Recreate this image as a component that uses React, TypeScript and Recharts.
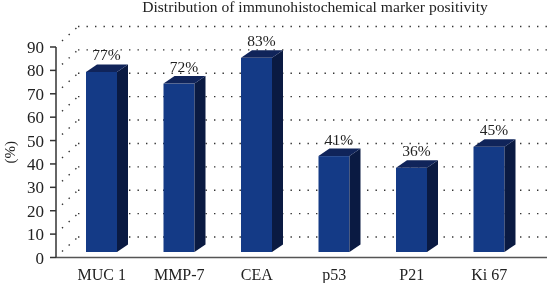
import { BarChart, Bar, XAxis, YAxis, CartesianGrid, LabelList, Label } from "recharts";

const markers = ["MUC 1", "MMP-7", "CEA", "p53", "P21", "Ki 67"];
const positivity = [77, 72, 83, 41, 36, 45];
const yTicks = [0, 10, 20, 30, 40, 50, 60, 70, 80, 90];

const chartData = markers.map((marker, i) => ({ marker, value: positivity[i] }));

const FONT = "'Liberation Serif', serif";
const TEXT = "#222";
const WALL_X = 22;
const WALL_Y = 20.5;
const BAR_LIFT = 5.5;
const SIDE_X = 11;
const SIDE_Y = 7.5;

// front face, side and top of one 3D column
const Column = ({ x, y, width, height }: any) => {
  const top = y - BAR_LIFT;
  const bottom = top + height;
  const right = x + width;
  return (
    <g>
      <rect x={x} y={top} width={width} height={height} fill="#143a86" />
      <polygon
        points={`${right},${top} ${right + SIDE_X},${top - SIDE_Y} ${right + SIDE_X},${bottom - SIDE_Y} ${right},${bottom}`}
        fill="#0a1a42"
      />
      <polygon
        points={`${x},${top} ${x + SIDE_X},${top - SIDE_Y} ${right + SIDE_X},${top - SIDE_Y} ${right},${top}`}
        fill="#10245a"
      />
    </g>
  );
};

// back wall dotted line plus the diagonal running to the y axis
const WallLine = ({ x1, x2, y1 }: any) => (
  <g stroke="#333" strokeWidth={1.4} fill="none">
    <line x1={x1 + WALL_X} x2={x2} y1={y1 - WALL_Y} y2={y1 - WALL_Y} strokeDasharray="1.4 7.1" />
    <line x1={x1 + 6} x2={x1 + WALL_X} y1={y1 - 6} y2={y1 - WALL_Y} strokeDasharray="1.4 7.6" />
  </g>
);

export default function App() {
  return (
    <div style={{ position: "fixed", left: 0, top: 0 }}>
      <BarChart
        width={547}
        height={283}
        data={chartData}
        margin={{ top: 47, right: 0, bottom: 0, left: 0 }}
        barSize={31}
      >
        <CartesianGrid vertical={false} horizontal={(props: any) => <WallLine key={props.key} {...props} />} />
        <XAxis
          dataKey="marker"
          height={25.5}
          padding={{ left: 7, right: 19 }}
          tickLine={false}
          axisLine={{ stroke: "#555", strokeWidth: 1.5 }}
          tick={{ fontFamily: FONT, fontSize: 16, fill: TEXT }}
          tickMargin={5}
          interval={0}
        />
        <YAxis
          width={56}
          domain={[0, 90]}
          ticks={yTicks}
          interval={0}
          tickSize={6}
          tickMargin={6}
          axisLine={{ stroke: "#333", strokeWidth: 1.5 }}
          tickLine={{ stroke: "#333", strokeWidth: 1.5 }}
          tick={{ fontFamily: FONT, fontSize: 17, fill: TEXT }}
        >
          <Label
            value="(%)"
            angle={-90}
            position="insideLeft"
            offset={10}
            style={{ fontFamily: FONT, fontSize: 15, fill: TEXT, textAnchor: "middle" }}
          />
        </YAxis>
        <Bar dataKey="value" shape={Column} isAnimationActive={false}>
          <LabelList
            dataKey="value"
            position="top"
            offset={17}
            dx={5}
            formatter={(v: any) => `${v}%`}
            style={{ fontFamily: FONT, fontSize: 15.5, fill: TEXT }}
          />
        </Bar>
        <text x={315} y={12} textAnchor="middle" fontFamily={FONT} fontSize={15.6} fill={TEXT}>
          Distribution of immunohistochemical marker positivity
        </text>
      </BarChart>
    </div>
  );
}
